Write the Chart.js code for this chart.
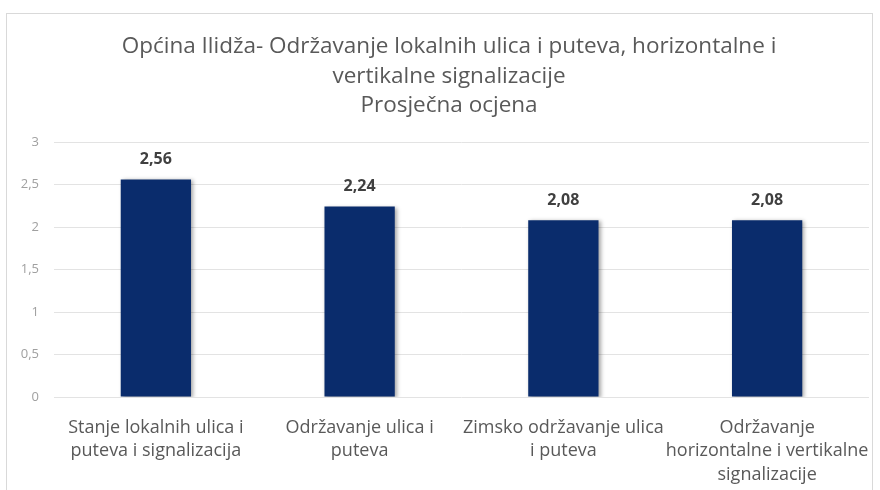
<!DOCTYPE html>
<html>
<head>
<meta charset="utf-8">
<script src="https://cdn.jsdelivr.net/npm/chart.js@4/dist/chart.umd.min.js"></script>
<style>
html,body{margin:0;padding:0;background:#fff;}
#wrap{width:880px;height:490px;position:relative;}
</style>
</head>
<body>
<div id="wrap"><canvas id="c" width="880" height="490"></canvas></div>
<script>
const titleLines = ["Općina Ilidža- Održavanje lokalnih ulica i puteva, horizontalne i", "vertikalne signalizacije", "Prosječna ocjena"];
const categories = [
  ["Stanje lokalnih ulica i", "puteva i signalizacija"],
  ["Održavanje ulica i", "puteva"],
  ["Zimsko održavanje ulica", "i puteva"],
  ["Održavanje", "horizontalne i vertikalne", "signalizacije"]
];
const values = [2.56, 2.24, 2.08, 2.08];
const yTicks = [0, 0.5, 1, 1.5, 2, 2.5, 3];

const fmt = v => String(v).replace('.', ',');
const FONT = "'Open Sans', Lato, sans-serif";

const framePlugin = {
  id: 'frame',
  beforeDraw(chart) {
    const ctx = chart.ctx;
    ctx.save();
    ctx.fillStyle = '#fff';
    ctx.fillRect(0, 0, chart.width, chart.height);
    ctx.strokeStyle = '#d9d9d9';
    ctx.lineWidth = 1;
    ctx.strokeRect(6.5, 13.5, 866, 490);
    ctx.restore();
  },
  afterDraw(chart) {
    const ctx = chart.ctx;
    ctx.save();
    ctx.font = "22.5px " + FONT;
    ctx.fillStyle = '#595959';
    ctx.textAlign = 'center';
    ctx.textBaseline = 'middle';
    const ys = [47, 76.5, 106];
    titleLines.forEach((t, i) => ctx.fillText(t, 449, ys[i]));
    ctx.restore();
  }
};

const shadowPlugin = {
  id: 'barShadow',
  beforeDatasetsDraw(chart) {
    const ctx = chart.ctx;
    ctx.save();
    ctx.shadowColor = 'rgba(0,0,0,0.35)';
    ctx.shadowBlur = 4;
    ctx.shadowOffsetX = 2;
    ctx.shadowOffsetY = 1;
  },
  afterDatasetsDraw(chart) {
    chart.ctx.restore();
  }
};

const labelPlugin = {
  id: 'valueLabels',
  afterDatasetsDraw(chart) {
    const ctx = chart.ctx;
    const meta = chart.getDatasetMeta(0);
    ctx.save();
    ctx.font = "bold 16px " + FONT;
    ctx.fillStyle = '#404040';
    ctx.textAlign = 'center';
    ctx.textBaseline = 'middle';
    meta.data.forEach((bar, i) => {
      ctx.fillText(fmt(values[i]), bar.x, bar.y - 20);
    });
    ctx.restore();
  }
};

new Chart(document.getElementById('c'), {
  type: 'bar',
  data: {
    labels: categories,
    datasets: [{
      data: values,
      backgroundColor: '#0a2c6c',
      borderWidth: 0,
      categoryPercentage: 1,
      barPercentage: 0.345
    }]
  },
  options: {
    responsive: false,
    animation: false,
    devicePixelRatio: 1,
    layout: { padding: { top: 142, right: 11, left: 4, bottom: 0 } },
    plugins: {
      legend: { display: false },
      tooltip: { enabled: false },
      title: { display: false }
    },
    scales: {
      x: {
        afterFit(scale) { scale.height = 93; scale.paddingLeft = 0; scale.paddingRight = 0; },
        grid: { display: false, drawTicks: false },
        border: { display: false },
        ticks: {
          color: '#595959',
          font: { family: FONT, size: 18, lineHeight: 1.3 },
          padding: 19,
          maxRotation: 0,
          autoSkip: false
        }
      },
      y: {
        min: 0, max: 3,
        afterFit(scale) { scale.width = 50; },
        afterBuildTicks(scale) { scale.ticks = yTicks.map(v => ({ value: v })); },
        grid: { color: '#e3e3e3', drawTicks: false, lineWidth: 1 },
        border: { display: false },
        ticks: {
          color: '#a0a0a0',
          font: { family: FONT, size: 13 },
          padding: 15,
          callback: v => fmt(v)
        }
      }
    }
  },
  plugins: [framePlugin, shadowPlugin, labelPlugin]
});
</script>
</body>
</html>
